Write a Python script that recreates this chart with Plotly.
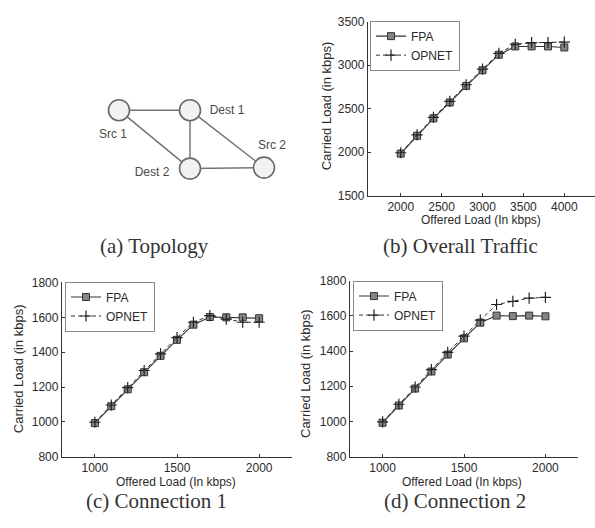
import plotly.graph_objects as go

# ---------------- data ----------------
# Topology (diagram units)
node_names = ["Src 1", "Dest 1", "Dest 2", "Src 2"]
node_x = [119, 190, 190, 264]
node_y = [106, 106, 166, 165]
edges = [("Src 1", "Dest 1"), ("Src 1", "Dest 2"), ("Dest 1", "Dest 2"),
         ("Dest 1", "Src 2"), ("Dest 2", "Src 2")]
label_x = [113, 227, 152, 272]
label_y = [131, 107, 171, 143]

# (b) Overall traffic
b_offered = [2000, 2200, 2400, 2600, 2800, 3000, 3200, 3400, 3600, 3800, 4000]
b_fpa = [1985, 2190, 2390, 2572, 2762, 2942, 3120, 3215, 3215, 3215, 3203]
b_opnet = [1995, 2200, 2400, 2585, 2775, 2955, 3135, 3240, 3258, 3260, 3265]

# (c) Connection 1
c_offered = [1000, 1100, 1200, 1300, 1400, 1500, 1600, 1700, 1800, 1900, 2000]
c_fpa = [993, 1090, 1187, 1285, 1379, 1471, 1558, 1602, 1600, 1600, 1595]
c_opnet = [998, 1097, 1197, 1295, 1390, 1484, 1572, 1610, 1590, 1572, 1572]

# (d) Connection 2
d_offered = [1000, 1100, 1200, 1300, 1400, 1500, 1600, 1700, 1800, 1900, 2000]
d_fpa = [993, 1091, 1187, 1284, 1380, 1472, 1561, 1601, 1598, 1601, 1597]
d_opnet = [998, 1098, 1196, 1295, 1392, 1485, 1575, 1664, 1682, 1700, 1705]

captions = ["(a) Topology", "(b) Overall Traffic", "(c) Connection 1", "(d) Connection 2"]
x_title = "Offered Load (In kbps)"
y_title = "Carried Load (in kbps)"

# ---------------- helpers ----------------
W, H = 595, 528
def fx(px):
    return px / W
def fy(py):
    return 1 - py / H

SANS = "Liberation Sans, Arial, sans-serif"
SERIF = "Liberation Serif, Times New Roman, serif"
INK = "#2b2b2b"

fig = go.Figure()

# ---- topology ----
pos = {n: (x, y) for n, x, y in zip(node_names, node_x, node_y)}
ex, ey = [], []
for a, b in edges:
    ex += [pos[a][0], pos[b][0], None]
    ey += [pos[a][1], pos[b][1], None]
fig.add_trace(go.Scatter(x=ex, y=ey, mode="lines", xaxis="x", yaxis="y",
                         line=dict(color="#747474", width=1.5),
                         showlegend=False, hoverinfo="skip"))
fig.add_trace(go.Scatter(x=node_x, y=node_y, mode="markers", xaxis="x", yaxis="y",
                         marker=dict(symbol="circle", size=21, color="#f2f2f2",
                                     line=dict(color="#6a6a6a", width=1.6)),
                         showlegend=False, hoverinfo="skip"))
fig.add_trace(go.Scatter(x=label_x, y=label_y, mode="text", xaxis="x", yaxis="y",
                         text=node_names, textposition="middle center",
                         textfont=dict(family="Liberation Sans Narrow, " + SANS, size=12, color="#4a4a4a"),
                         showlegend=False, hoverinfo="skip"))

# ---- line panels ----
panels = [
    ("x2", "y2", "legend", b_offered, b_fpa, b_opnet),
    ("x3", "y3", "legend2", c_offered, c_fpa, c_opnet),
    ("x4", "y4", "legend3", d_offered, d_fpa, d_opnet),
]
for xa, ya, lg, xo, fpa, opn in panels:
    fig.add_trace(go.Scatter(x=xo, y=fpa, name="FPA", mode="lines+markers",
                             xaxis=xa, yaxis=ya, legend=lg,
                             line=dict(color="#333333", width=1.1),
                             marker=dict(symbol="square", size=7, color="#858585",
                                         line=dict(color="#333333", width=1))))
    fig.add_trace(go.Scatter(x=xo, y=opn, name="OPNET", mode="lines+markers",
                             xaxis=xa, yaxis=ya, legend=lg,
                             line=dict(color="#333333", width=1, dash="4px,3px"),
                             marker=dict(symbol="cross-thin", size=8, color="#222222",
                                         line=dict(color="#222222", width=1.2))))

def axis_common():
    return dict(showline=True, linecolor="#333333", linewidth=1.3, mirror=False,
                showgrid=False, zeroline=False, ticks="inside", ticklen=3,
                tickcolor="#333333", tickwidth=1,
                tickfont=dict(family=SANS, size=12, color=INK))

def legend_at(px, py):
    return dict(x=fx(px), y=fy(py), xanchor="left", yanchor="top",
                bordercolor="#8a8a8a", borderwidth=1, bgcolor="white",
                font=dict(family=SANS, size=12, color=INK),
                itemwidth=30, tracegroupgap=0)

fig.update_layout(
    width=W, height=H,
    margin=dict(l=0, r=0, t=0, b=0),
    paper_bgcolor="white", plot_bgcolor="white",
    showlegend=True,
    xaxis=dict(domain=[0, fx(300)], range=[0, 300], visible=False),
    yaxis=dict(domain=[fy(230), 1], range=[230, 0], visible=False),
    xaxis2=dict(domain=[fx(368), 1.0], range=[1600, 4375], tick0=2000, dtick=500,
                anchor="y2", **axis_common()),
    yaxis2=dict(domain=[fy(194), fy(15)], range=[1500, 3500], dtick=500,
                anchor="x2", **axis_common()),
    xaxis3=dict(domain=[fx(62), fx(292)], range=[800, 2200], tick0=1000, dtick=500,
                anchor="y3", **axis_common()),
    yaxis3=dict(domain=[fy(462), fy(283)], range=[800, 1800], dtick=200,
                anchor="x3", **axis_common()),
    xaxis4=dict(domain=[fx(350), fx(578)], range=[800, 2200], tick0=1000, dtick=500,
                anchor="y4", **axis_common()),
    yaxis4=dict(domain=[fy(462), fy(281)], range=[800, 1800], dtick=200,
                anchor="x4", **axis_common()),
    legend=legend_at(370, 14),
    legend2=legend_at(65, 282),
    legend3=legend_at(353, 281),
)

annots = []
# captions
for txt, cx, cy in zip(captions, [154, 460, 156, 455], [246, 246, 507, 507]):
    annots.append(dict(text=txt, x=fx(cx), y=fy(cy), xref="paper", yref="paper",
                       xanchor="center", yanchor="middle", showarrow=False,
                       font=dict(family=SERIF, size=21, color="#333333")))
# x titles
for cx, cy in zip([481, 176, 462], [219, 488, 488]):
    annots.append(dict(text=x_title, x=fx(cx), y=fy(cy), xref="paper", yref="paper",
                       xanchor="center", yanchor="middle", showarrow=False,
                       font=dict(family=SANS, size=12, color=INK)))
# y titles
for cx, cy in zip([326, 18, 305], [102, 372, 377]):
    annots.append(dict(text=y_title, x=fx(cx), y=fy(cy), xref="paper", yref="paper",
                       xanchor="center", yanchor="middle", showarrow=False, textangle=-90,
                       font=dict(family=SANS, size=13, color=INK)))
fig.update_layout(annotations=annots)

fig.write_html("out.html",
               config={"displayModeBar": False},
               post_script="document.body.style.margin='0';document.body.style.overflow='hidden';")
